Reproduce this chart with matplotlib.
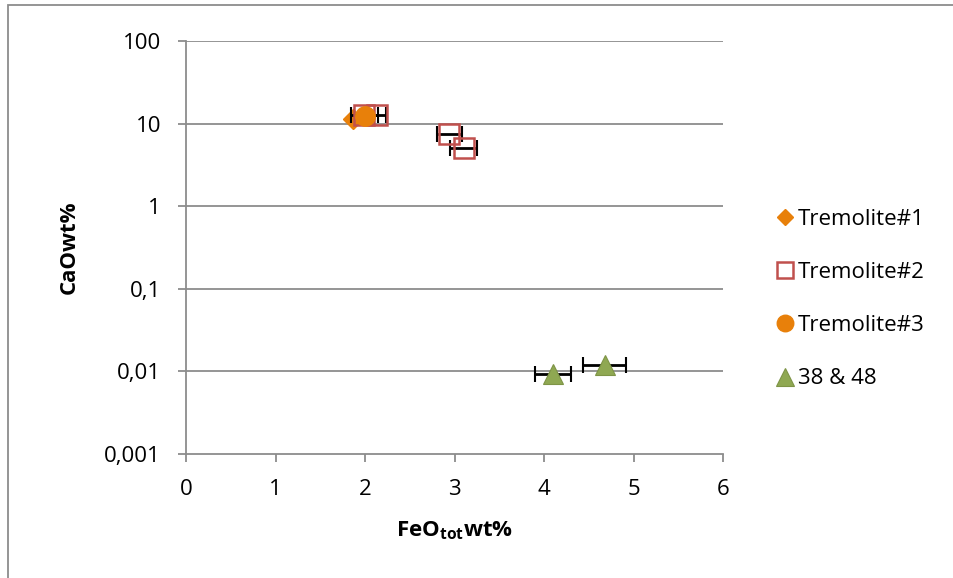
import matplotlib.pyplot as plt
from matplotlib.patches import Rectangle
from matplotlib.ticker import FixedLocator, FixedFormatter

plt.rcParams['font.family'] = ['Open Sans', 'DejaVu Sans']
plt.rcParams['mathtext.fontset'] = 'custom'
plt.rcParams['mathtext.bf'] = 'Open Sans:bold'

# data
trem1_x = [1.87]
trem1_y = [11.5]

trem2_x = [1.99, 2.13, 2.94, 3.10]
trem2_y = [12.7, 12.7, 7.5, 5.1]
trem2_xerr = [0.15, 0.10, 0.14, 0.15]

trem3_x = [2.0]
trem3_y = [12.5]

s3848_x = [4.10, 4.68]
s3848_y = [0.0094, 0.0121]
s3848_xerr = [0.20, 0.24]

y_ticks = [0.001, 0.01, 0.1, 1, 10, 100]
y_labels = ['0,001', '0,01', '0,1', '1', '10', '100']
x_ticks = [0, 1, 2, 3, 4, 5, 6]

grey = '#8c8c8c'
orange = '#E8800A'
red = '#C0504D'
green = '#8FA852'

fig = plt.figure(figsize=(9.54, 5.78), dpi=100)
ax = fig.add_axes([0.195, 0.2145, 0.563, 0.7145])

# outer chart frame (only top and left visible)
fig.patches.append(Rectangle((8 / 954, -0.1), 1.2, 1 - 5 / 578 + 0.1,
                             transform=fig.transFigure, fill=False,
                             edgecolor=grey, lw=1.3))

ax.set_yscale('log')
ax.set_xlim(0, 6)
ax.set_ylim(0.001, 100)

for yv in y_ticks[1:]:
    ax.axhline(yv, color=grey, lw=1.3, zorder=0)

ax.plot(trem1_x, trem1_y, ls='none', marker='D', ms=10, color=orange,
        label='Tremolite#1', zorder=3)
ax.errorbar(trem2_x, trem2_y, xerr=trem2_xerr, ls='none', ecolor='black',
            elinewidth=2, capsize=6, capthick=1.5, zorder=3)
ax.plot(trem2_x, trem2_y, ls='none', marker='s', ms=14, mfc='none',
        mec=red, mew=1.8, label='Tremolite#2', zorder=4)
ax.plot(trem3_x, trem3_y, ls='none', marker='o', ms=14, color=orange,
        label='Tremolite#3', zorder=5)
ax.errorbar(s3848_x, s3848_y, xerr=s3848_xerr, ls='none', ecolor='black',
            elinewidth=2, capsize=6, capthick=1.5, zorder=3)
ax.plot(s3848_x, s3848_y, ls='none', marker='^', ms=15, color=green,
        mec='#7E9446', mew=0.8, label='38 & 48', zorder=4)

ax.yaxis.set_major_locator(FixedLocator(y_ticks))
ax.yaxis.set_major_formatter(FixedFormatter(y_labels))
ax.yaxis.set_minor_locator(FixedLocator([]))
ax.set_xticks(x_ticks)

for side in ['top', 'right']:
    ax.spines[side].set_visible(False)
for side in ['left', 'bottom']:
    ax.spines[side].set_color(grey)
    ax.spines[side].set_linewidth(1.3)
ax.tick_params(axis='both', which='major', color=grey, width=1.3, length=6,
               labelsize=16, pad=12)

ax.set_ylabel('CaOwt%', fontsize=16, fontweight='bold', labelpad=18)
ax.set_xlabel(r'FeO$_{\mathbf{tot}}$wt%', fontsize=16, fontweight='bold',
              labelpad=14)

ax.legend(loc='center left', bbox_to_anchor=(1.058, 0.375), frameon=False,
          fontsize=16, handletextpad=0.05, labelspacing=1.45, handlelength=1.0,
          markerscale=0.85)

fig.savefig('out.png', dpi=100)
